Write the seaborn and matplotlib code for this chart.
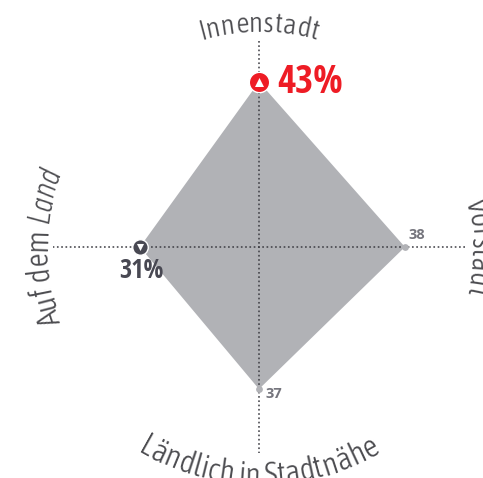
import numpy as np
import pandas as pd
import seaborn as sns
import matplotlib
matplotlib.use('Agg')
import matplotlib.pyplot as plt
from matplotlib import font_manager as fm
from matplotlib.ft2font import LoadFlags

# Data ---------------------------------------------------
regions = ['Innenstadt', 'Vorstadt', 'Ländlich in Stadtnähe', 'Auf dem Land']
angles = [0, 90, 180, 270]
values = [43, 38, 37, 31]
axis_max = 53.6

RED = '#ee1c25'
DARK = '#484852'
GREY = '#b1b2b6'
SOFT = '#75757d'
LABEL = '#4c4c50'
NARROW = ['Open Sans Condensed', 'Asap Condensed', 'Liberation Sans Narrow', 'Liberation Sans']
LIGHT = ['Asap Condensed', 'Liberation Sans Narrow', 'Liberation Sans']
LIGHT_ITALIC = ['Barlow Condensed', 'Asap Condensed', 'Liberation Sans Narrow', 'Liberation Sans']

PX = 3.84   # pixels per percentage point
W, H = 483, 478
CX, CY = 259, 247

sns.set_style('white')
plt.rcParams['font.family'] = ['Open Sans', 'DejaVu Sans']

df = pd.DataFrame({'region': regions, 'angle': angles, 'value': values})
rad = np.radians(df.angle)
df['x'] = df.value * np.sin(rad)
df['y'] = df.value * np.cos(rad)

fig = plt.figure(figsize=(W / 100, H / 100), dpi=100)
ax = fig.add_axes([0, 0, 1, 1])
ax.set_xlim(-CX / PX, (W - CX) / PX)
ax.set_ylim((CY - H) / PX, CY / PX)
ax.axis('off')

# Diamond
ax.fill(df.x, df.y, color=GREY, lw=0, zorder=1)

# Dotted axes
for a in [(0, 180), (90, 270)]:
    r = np.radians(a)
    sns.lineplot(x=axis_max * np.sin(r), y=axis_max * np.cos(r), sort=False,
                 color='#3c3c42', lw=1.1, ax=ax, zorder=2,
                 linestyle=(0, (1.1, 1.7)), estimator=None)


def advance(ch, prop):
    font = fm.get_font(fm.findfont(prop))
    font.set_size(prop.get_size_in_points(), 100)
    return font.load_char(ord(ch), flags=LoadFlags.NO_HINTING).linearHoriAdvance / 65536


def arc_text(text, radius, center, size, inward=False, italic_from=None):
    """Write text one glyph at a time along a circle round the chart centre."""
    props = []
    for i, ch in enumerate(text):
        if italic_from is not None and i >= italic_from:
            props.append(fm.FontProperties(family=LIGHT_ITALIC, size=size * 1.08,
                                           style='italic', weight=300))
        else:
            props.append(fm.FontProperties(family=LIGHT, size=size, weight=300))
    adv = [advance(c, p) for c, p in zip(text, props)]
    direction = -1 if inward else 1
    pos = -sum(adv) / 2
    for ch, p, w in zip(text, props, adv):
        theta = center + direction * np.degrees((pos + w / 2) / radius)
        t = np.radians(theta)
        rot = 180 - theta if inward else -theta
        ax.text(radius * np.sin(t) / PX, radius * np.cos(t) / PX, ch,
                fontproperties=p, color=LABEL, rotation=rot,
                rotation_mode='anchor', ha='center', va='baseline', zorder=5)
        pos += w


arc_text(regions[0], 215, 0, 21)
arc_text(regions[1], 212, 90, 22)
arc_text(regions[2], 238, 180, 23, inward=True)
arc_text(regions[3], 212, 270, 22.5, italic_from=8)

# Plain end points
plain = df[df.value.isin([38, 37])]
sns.scatterplot(data=plain, x='x', y='y', color=GREY, s=24, linewidth=0, ax=ax, zorder=3)

# High and low markers
top = df[df.value == df.value.max()]
low = df[df.value == df.value.min()]
sns.scatterplot(data=top, x='x', y='y', color=RED, s=215, edgecolor='white',
                linewidth=1, ax=ax, zorder=4)
sns.scatterplot(data=top, x='x', y='y', color='white', s=42, marker='^',
                linewidth=0, ax=ax, zorder=5)
sns.scatterplot(data=low, x='x', y='y', color=DARK, s=125, edgecolor='white',
                linewidth=1, ax=ax, zorder=4)
sns.scatterplot(data=low, x='x', y='y', color='white', s=26, marker='v',
                linewidth=0, ax=ax, zorder=5)

# Value labels
ax.annotate(f'{values[0]}%', (top.x.iloc[0], top.y.iloc[0]), xytext=(18, -1),
            textcoords='offset pixels', color=RED, size=28, weight='bold',
            family=NARROW, ha='left', va='center', zorder=6)
ax.annotate(f'{values[3]}%', (low.x.iloc[0], low.y.iloc[0]), xytext=(1, -24),
            textcoords='offset pixels', color=DARK, size=19, weight='bold',
            family=NARROW, ha='center', va='center', zorder=6)
ax.annotate(f'{values[1]}', (df.x.iloc[1], df.y.iloc[1]), xytext=(4, 12),
            textcoords='offset pixels', color=SOFT, size=10.5, weight='bold',
            ha='left', va='center', zorder=6)
ax.annotate(f'{values[2]}', (df.x.iloc[2], df.y.iloc[2]), xytext=(6, -5),
            textcoords='offset pixels', color=SOFT, size=10.5, weight='bold',
            ha='left', va='center', zorder=6)

ax.set_xlabel('')
ax.set_ylabel('')
fig.savefig('out.png', dpi=100)
